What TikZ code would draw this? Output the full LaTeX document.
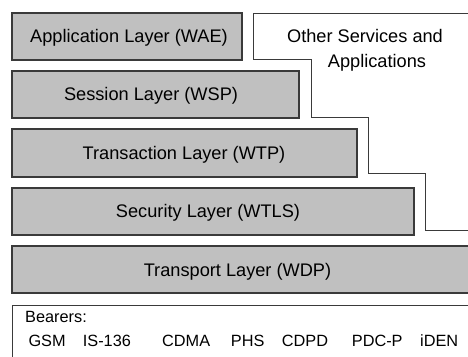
\documentclass[tikz,border=0pt]{standalone}
\usepackage{fontspec}
\setmainfont{Liberation Sans}
\definecolor{layerfill}{HTML}{C0C0C0}
\definecolor{layerline}{HTML}{3A3A3A}
\begin{document}
\begin{tikzpicture}[x=1pt,y=-1pt,
  layerbox/.style={draw=layerline,fill=layerfill,line width=1.1pt},
  plainbox/.style={draw=layerline,fill=white,line width=0.9pt},
  layertext/.style={anchor=base,inner sep=0pt,font=\fontsize{18.2}{22}\selectfont},
  bearertext/.style={anchor=base west,inner sep=0pt,font=\fontsize{16.3}{20}\selectfont}]
\useasboundingbox[fill=white] (0,0) rectangle (468,356);

% protocol layers
\draw[layerbox] (12,13) rectangle (242,60);
\node[layertext] (wae) at (129,42) {Application Layer (WAE)};
\draw[layerbox] (12,71) rectangle (299,118);
\node[layertext] (wsp) at (151,100.5) {Session Layer (WSP)};
\draw[layerbox] (12,129) rectangle (357,177);
\node[layertext] (wtp) at (184,159) {Transaction Layer (WTP)};
\draw[layerbox] (12,188) rectangle (414,235);
\node[layertext] (wtls) at (208,217.5) {Security Layer (WTLS)};
\draw[layerbox] (12,246) rectangle (480,293);
\node[layertext] (wdp) at (237.5,276) {Transport Layer (WDP)};

% other services: stepped outline beside the layers
\draw[plainbox] (480,13) -- (253,13) -- (253,59.5) -- (311,59.5) -- (311,117.5)
  -- (368,117.5) -- (368,173) -- (425,173) -- (425,230) -- (480,230);
\node[layertext] (other1) at (365,42) {Other Services and};
\node[layertext] (other2) at (377,67) {Applications};

% bearers
\draw[plainbox] (480,305) -- (12,305) -- (12,370);
\node[bearertext] (bearers) at (25,322.7) {Bearers:};
\node[bearertext] (gsm) at (28.3,346) {GSM};
\node[bearertext] (is136) at (82.7,346) {IS-136};
\node[bearertext] (cdma) at (162,346) {CDMA};
\node[bearertext] (phs) at (230.7,346) {PHS};
\node[bearertext] (cdpd) at (281.7,346) {CDPD};
\node[bearertext] (pdcp) at (351.7,346) {PDC-P};
\node[bearertext] (iden) at (420,346) {iDEN};
\end{tikzpicture}
\end{document}
